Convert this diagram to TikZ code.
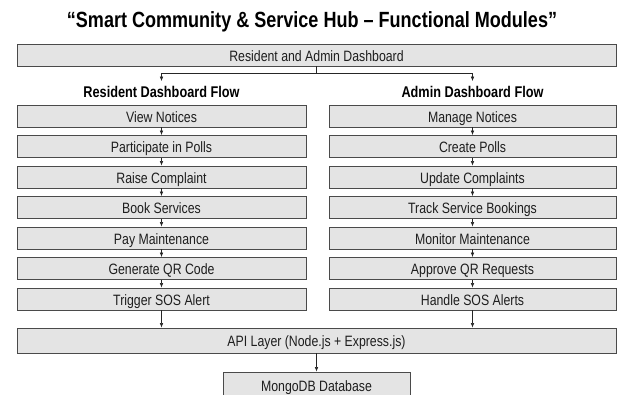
\documentclass[tikz,border=0pt]{standalone}
\usepackage{fontspec}
\setmainfont{Liberation Sans}[FakeStretch=0.82]
\usetikzlibrary{arrows.meta}
\definecolor{boxfill}{HTML}{E4E4E4}
\definecolor{boxline}{HTML}{4A4A4A}
\definecolor{txt}{HTML}{1E1E1E}
\begin{document}
\begin{tikzpicture}[x=1pt,y=-1pt,
  box/.style={draw=boxline, fill=boxfill, line width=0.9pt, inner sep=0pt,
    text=txt, font=\fontsize{15}{18}\selectfont, text height=12.5pt, text depth=0pt},
  colbox/.style={box, minimum width=289pt, minimum height=22pt},
  heading/.style={font=\bfseries\fontsize{15.5}{18}\selectfont, text=black,
    inner xsep=2pt, inner ysep=5pt, text height=11.3pt, text depth=0pt},
  arr/.style={-{Latex[length=4.5pt,width=3.6pt]}, line width=0.6pt, draw=black!85},
  ln/.style={line width=0.6pt, draw=black!85}]
\useasboundingbox (0,0) rectangle (617,394);
\fill[white] (0,0) rectangle (617,394);

\node[font=\bfseries\fontsize{22}{26}\selectfont, text=black] (title) at (312,22)
  {“Smart Community \& Service Hub – Functional Modules”};

\node[box, minimum width=599pt, minimum height=22pt] (top) at (316.5,55) {Resident and Admin Dashboard};

\node[heading] (lh) at (161.5,92) {Resident Dashboard Flow};
\node[heading] (rh) at (472.5,92) {Admin Dashboard Flow};

\coordinate (jl) at (161.5,73);
\coordinate (jr) at (472.5,73);
\draw[ln] (top.south) -- (top.south |- jl);
\draw[ln] (jl) -- (jr);
\draw[arr] (jl) -- (lh.north);
\draw[arr] (jr) -- (rh.north);

% left column
\node[colbox] (l1) at (161.5,116)   {View Notices};
\node[colbox] (l2) at (161.5,146.5) {Participate in Polls};
\node[colbox] (l3) at (161.5,177)   {Raise Complaint};
\node[colbox] (l4) at (161.5,207.5) {Book Services};
\node[colbox] (l5) at (161.5,238)   {Pay Maintenance};
\node[colbox] (l6) at (161.5,268.5) {Generate QR Code};
\node[colbox] (l7) at (161.5,299)   {Trigger SOS Alert};

% right column
\node[colbox, minimum width=287pt] (r1) at (472.5,116)   {Manage Notices};
\node[colbox, minimum width=287pt] (r2) at (472.5,146.5) {Create Polls};
\node[colbox, minimum width=287pt] (r3) at (472.5,177)   {Update Complaints};
\node[colbox, minimum width=287pt] (r4) at (472.5,207.5) {Track Service Bookings};
\node[colbox, minimum width=287pt] (r5) at (472.5,238)   {Monitor Maintenance};
\node[colbox, minimum width=287pt] (r6) at (472.5,268.5) {Approve QR Requests};
\node[colbox, minimum width=287pt] (r7) at (472.5,299)   {Handle SOS Alerts};

\foreach \a/\b in {1/2,2/3,3/4,4/5,5/6,6/7}{
  \draw[arr] (l\a.south) -- (l\b.north);
  \draw[arr] (r\a.south) -- (r\b.north);
}

\node[box, minimum width=599pt, minimum height=25pt] (api) at (316.5,340.5) {API Layer (Node.js + Express.js)};
\node[box, minimum width=187pt, minimum height=26pt] (db) at (316.5,385) {MongoDB Database};

\draw[arr] (l7.south) -- (l7.south |- api.north);
\draw[arr] (r7.south) -- (r7.south |- api.north);
\draw[arr] (api.south) -- (db.north);
\end{tikzpicture}
\end{document}
